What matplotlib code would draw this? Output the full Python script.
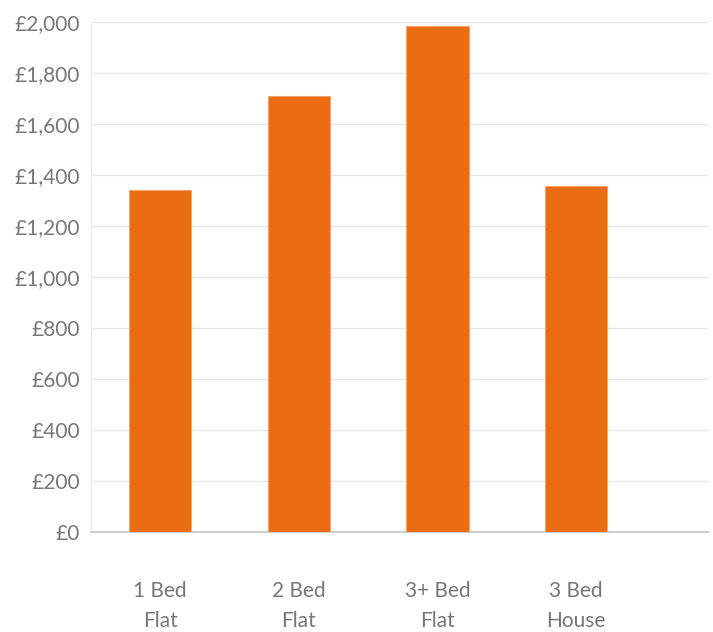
import matplotlib
matplotlib.use('Agg')
from matplotlib import pyplot as plt
from matplotlib.ticker import FuncFormatter

categories = ['1 Bed\nFlat', '2 Bed\nFlat', '3+ Bed\nFlat', '3 Bed\nHouse']
rents = [1342, 1710, 1984, 1357]
y_ticks = [0, 200, 400, 600, 800, 1000, 1200, 1400, 1600, 1800, 2000]

plt.rcParams['font.family'] = ['Lato', 'DejaVu Sans']

fig = plt.figure(figsize=(7.13, 6.32), dpi=100)
ax = fig.add_axes([91 / 713, 99.7 / 632, (707.7 - 91) / 713, (532.3 - 22.3) / 632])

x = list(range(len(categories)))
ax.bar(x, rents, width=0.45, color='#eb6c12', edgecolor='#f4a46c', linewidth=0.8, zorder=3)

ax.set_xlim(-0.5, 3.95)
ax.set_ylim(0, 2000)
ax.set_yticks(y_ticks)
ax.yaxis.set_major_formatter(FuncFormatter(lambda v, p: '£{:,.0f}'.format(v)))
ax.set_xticks(x)
ax.set_xticklabels(categories, linespacing=1.65)

ax.grid(axis='y', color='#e6e6e6', linewidth=1, zorder=0)
for side in ['top', 'right']:
    ax.spines[side].set_visible(False)
ax.spines['left'].set_color('#ececec')
ax.spines['bottom'].set_color('#c4c4c4')
ax.spines['bottom'].set_linewidth(1.2)

ax.tick_params(axis='y', length=0, pad=8, labelsize=15, labelcolor='#777777')
ax.tick_params(axis='x', length=0, pad=35, labelsize=15, labelcolor='#777777')

fig.savefig('out.png', dpi=100)
